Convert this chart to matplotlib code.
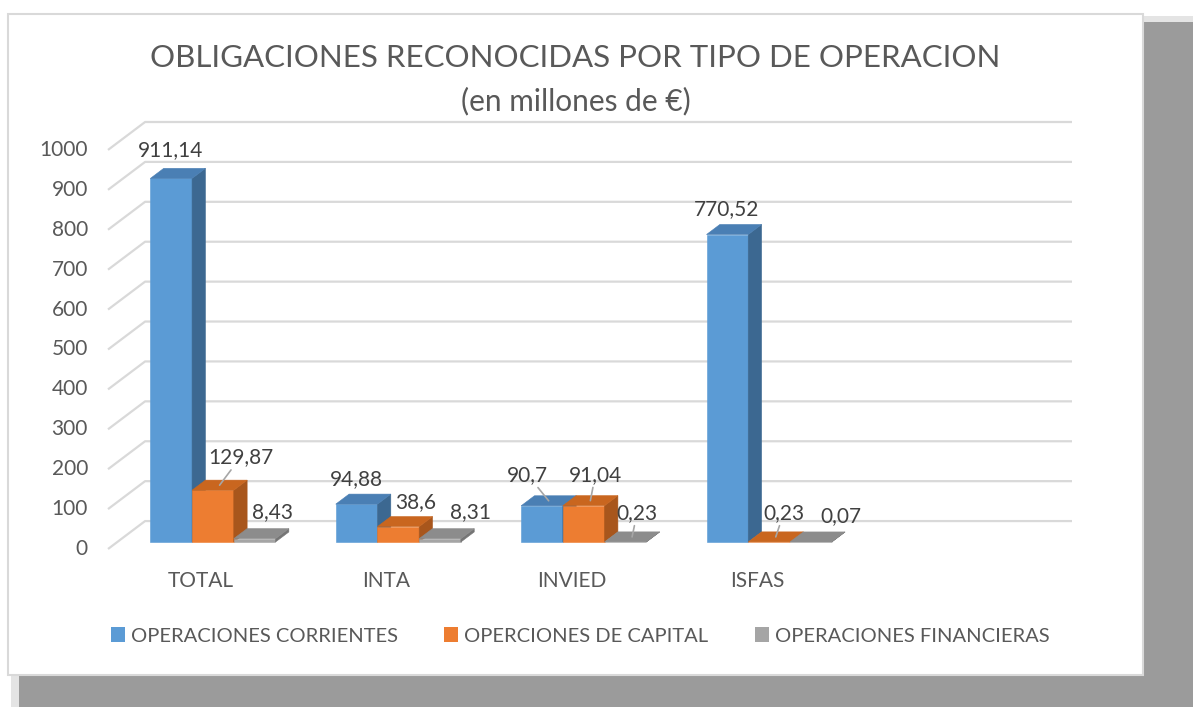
import matplotlib.pyplot as plt
from matplotlib.patches import Polygon, Rectangle

categories = ["TOTAL", "INTA", "INVIED", "ISFAS", ""]
corrientes = [911.14, 94.88, 90.7, 770.52]
capital = [129.87, 38.6, 91.04, 0.23]
financieras = [8.43, 8.31, 0.23, 0.07]
series_names = ["OPERACIONES CORRIENTES", "OPERCIONES DE CAPITAL", "OPERACIONES FINANCIERAS"]
yticks = list(range(0, 1001, 100))

# front / top / side shades per series
colors = [
    ("#5b9bd5", "#4a7fb4", "#3c6891"),
    ("#ed7d31", "#c9661f", "#a8561c"),
    ("#a5a5a5", "#8c8c8c", "#757575"),
]
# manual data label offsets (pixels) and leader lines, like the Excel chart
label_offsets = [
    [(-7, 23), (-7, 20), (-21, 26), (-7, 20)],
    [(21, 28), (11, 19), (5, 26), (8, 24)],
    [(11, 22), (24, 22), (5, 24), (23, 21)],
]
leaders = [
    [False, False, True, False],
    [True, False, True, True],
    [False, False, True, False],
]

plt.rcParams["font.family"] = ["Lato", "DejaVu Sans"]
TXT = "#595959"
GRID = "#d9d9d9"

W, H = 1193, 707
fig = plt.figure(figsize=(W / 100, H / 100), dpi=100)

# card with drop shadow
fig.patches.append(Rectangle((11 / W, 0), 1 - 11 / W, 1 - 16 / H, transform=fig.transFigure,
                             facecolor="#e4e4e4", edgecolor="none", zorder=-3))
fig.patches.append(Rectangle((19 / W, 0), 1 - 19 / W, 1 - 22 / H, transform=fig.transFigure,
                             facecolor="#9b9b9b", edgecolor="none", zorder=-2))
fig.patches.append(Rectangle((8 / W, 1 - 675 / H), 1135 / W, 661 / H, transform=fig.transFigure,
                             facecolor="white", edgecolor=GRID, lw=1.5, zorder=-1))

# 3D oblique projection parameters
DX, DY = 0.2, 70.0        # wall depth in x units / value units
FRONT, BACK = 0.25, 0.61  # bar depth range
BW = 0.225                # bar width
SHIFT = 0.016             # small group shift to the right
ncat = len(categories)

ax = fig.add_axes([108 / W, 1 - 549 / H, 964 / W, 427 / H])
ax.set_xlim(-0.5, ncat - 0.5 + DX)
ax.set_ylim(0, 1000 + DY)
ax.axis("off")
ax.set_zorder(1)


def proj(x, y, d):
    return (x + d * DX, y + d * DY)


# walls gridlines
for v in yticks:
    x0 = -0.5
    ax.plot([x0, x0 + DX, ncat - 0.5 + DX], [v, v + DY, v + DY], color=GRID, lw=1.6,
            zorder=1, solid_capstyle="butt", clip_on=False)
    ax.annotate(str(v), (x0, v), xytext=(-20, 0), textcoords="offset pixels",
                ha="right", va="center", fontsize=15, color=TXT)

for i, cat in enumerate(categories):
    ax.annotate(cat, (i, 0), xytext=(0, -32), textcoords="offset pixels",
                ha="center", va="center", fontsize=15, color=TXT)

series = [corrientes, capital, financieras]
z = 2
for i in range(len(corrientes)):
    for j, vals in enumerate(series):
        v = vals[i]
        x0 = i - 1.5 * BW + j * BW + SHIFT
        x1 = x0 + BW
        front, top, side = colors[j]
        faces = [
            ([proj(x0, 0, FRONT), proj(x1, 0, FRONT), proj(x1, v, FRONT), proj(x0, v, FRONT)], front),
            ([proj(x1, 0, FRONT), proj(x1, 0, BACK), proj(x1, v, BACK), proj(x1, v, FRONT)], side),
            ([proj(x0, v, FRONT), proj(x1, v, FRONT), proj(x1, v, BACK), proj(x0, v, BACK)], top),
        ]
        for pts, c in faces:
            ax.add_patch(Polygon(pts, closed=True, facecolor=c, edgecolor=c, lw=0.4, zorder=z))
        z += 1

# data labels
for i in range(len(corrientes)):
    for j, vals in enumerate(series):
        v = vals[i]
        xc = i - BW + j * BW + SHIFT
        anchor = proj(xc, v, (FRONT + BACK) / 2)
        txt = f"{v:g}".replace(".", ",")
        kw = {}
        if leaders[j][i]:
            kw["arrowprops"] = dict(arrowstyle="-", color="#a6a6a6", lw=1.2,
                                    shrinkA=0, shrinkB=0)
        ax.annotate(txt, anchor, xytext=label_offsets[j][i], textcoords="offset pixels",
                    ha="center", va="center", fontsize=15, color="#404040", zorder=50, **kw)

fig.text(575.5 / W, 1 - 58 / H, "OBLIGACIONES RECONOCIDAS POR TIPO DE OPERACION",
         ha="center", va="center", fontsize=22.5, color=TXT)
fig.text(575.5 / W, 1 - 101 / H, "(en millones de €)",
         ha="center", va="center", fontsize=21.5, color=TXT)

handles = [Rectangle((0, 0), 1, 1, facecolor=c[0]) for c in colors]
fig.legend(handles, series_names, loc="center", bbox_to_anchor=(580 / W, 1 - 636 / H),
           ncol=3, frameon=False, fontsize=14.5, labelcolor=TXT, handlelength=0.7,
           handleheight=0.7, handletextpad=0.3, columnspacing=2.3)

fig.savefig("out.png", dpi=100)
